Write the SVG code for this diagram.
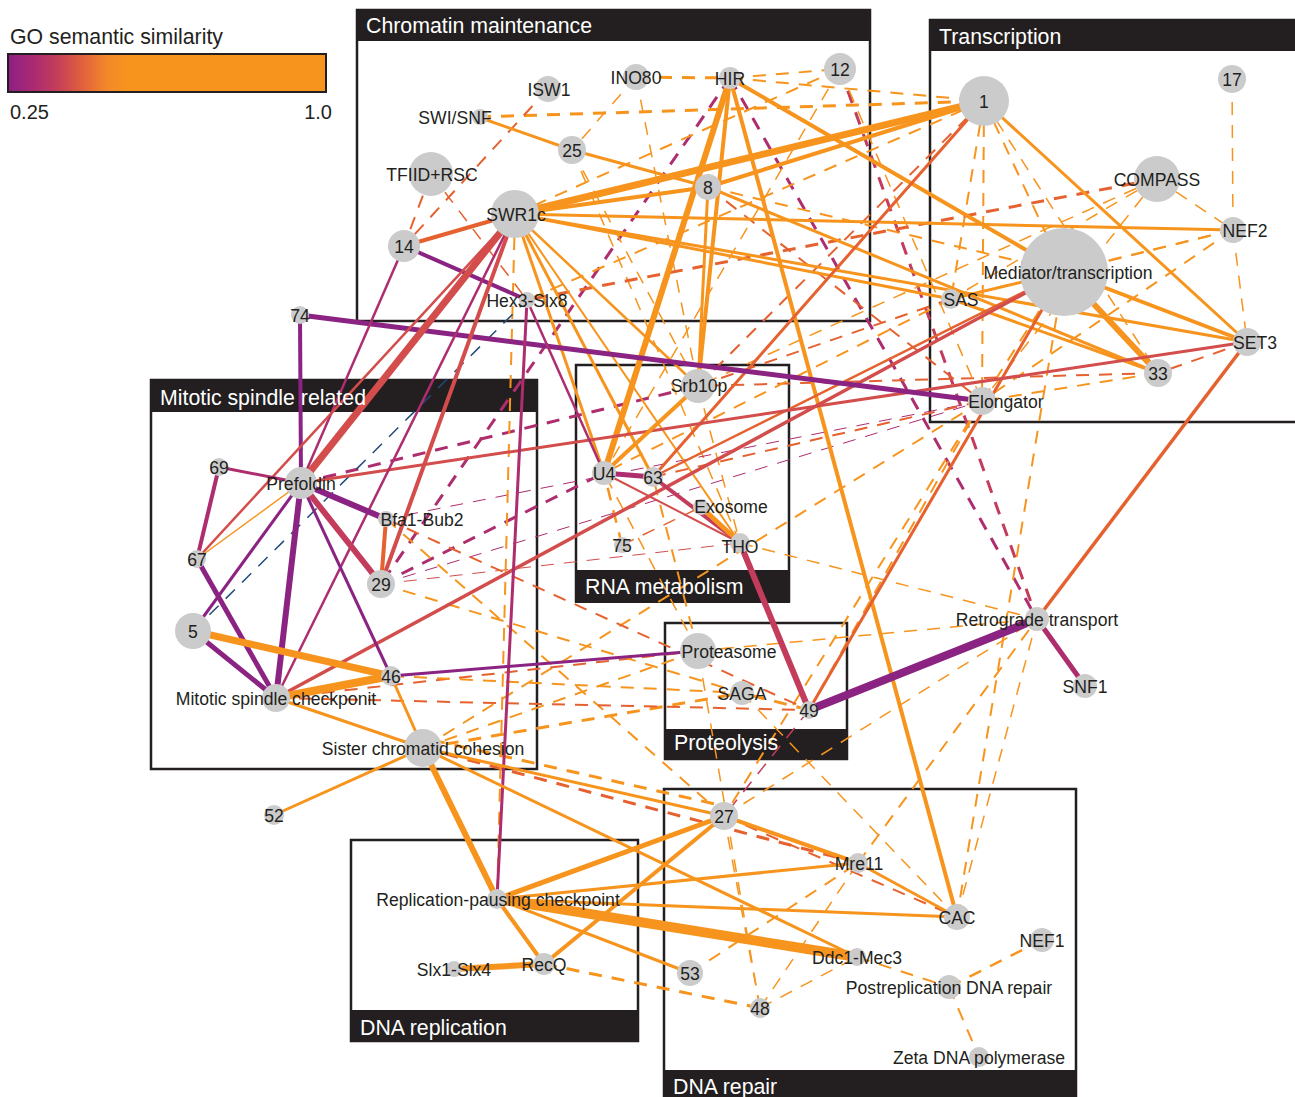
<svg xmlns="http://www.w3.org/2000/svg" width="1295" height="1097" viewBox="0 0 1295 1097">
<defs>
<linearGradient id="lg" x1="0" y1="0" x2="1" y2="0">
<stop offset="0" stop-color="#8e1f85"/>
<stop offset="0.08" stop-color="#a92a72"/>
<stop offset="0.16" stop-color="#c63f58"/>
<stop offset="0.24" stop-color="#e3633b"/>
<stop offset="0.31" stop-color="#f3882a"/>
<stop offset="0.38" stop-color="#f7941d"/>
<stop offset="1" stop-color="#f7941d"/>
</linearGradient>
<style>
.p{stroke:#8b2383}.m{stroke:#ad2d6e}.c{stroke:#c33c5c}.r{stroke:#d24d4b}.e{stroke:#e5612f}.o{stroke:#f7941d}.n{stroke:#1f4a78}
.d{stroke-dasharray:13 10}
#edges line{fill:none}
.node circle{fill:#cbcbcb}
.node text{font-family:"Liberation Sans",Arial,Helvetica,sans-serif;font-size:17.6px;fill:#231f20;text-anchor:middle}
.box{fill:none;stroke:#231f20;stroke-width:2.5}
.hdr{fill:#231f20}
.ht{font-family:"Liberation Sans",Arial,Helvetica,sans-serif;font-size:21.3px;fill:#ffffff}
.leg{font-family:"Liberation Sans",Arial,Helvetica,sans-serif;font-size:20px;fill:#231f20}
</style>
</defs>
<rect width="1295" height="1097" fill="#ffffff"/>

<g id="legend">
<text class="leg" x="10" y="44" style="font-size:21.3px">GO semantic similarity</text>
<rect x="8" y="54" width="318" height="38" fill="url(#lg)" stroke="#231f20" stroke-width="2"/>
<text class="leg" x="10" y="119">0.25</text>
<text class="leg" x="332" y="119" text-anchor="end">1.0</text>
</g>

<g id="groups">
<g id="grp-chromatin"><rect class="box" x="357" y="10" width="513" height="311"/><rect class="hdr" x="357" y="9" width="514" height="32"/></g>
<g id="grp-transcription"><rect class="box" x="930" y="20" width="400" height="402"/><rect class="hdr" x="929" y="19" width="380" height="32"/></g>
<g id="grp-mitotic"><rect class="box" x="151" y="380" width="386" height="389"/><rect class="hdr" x="150" y="379" width="388" height="33"/></g>
<g id="grp-rna"><rect class="box" x="576" y="365" width="213" height="236"/><rect class="hdr" x="575" y="570" width="215" height="33"/></g>
<g id="grp-proteolysis"><rect class="box" x="665" y="623" width="182" height="136"/><rect class="hdr" x="664" y="729" width="184" height="31"/></g>
<g id="grp-replication"><rect class="box" x="351" y="840" width="287" height="201"/><rect class="hdr" x="350" y="1010" width="289" height="32"/></g>
<g id="grp-repair"><rect class="box" x="664" y="789" width="412" height="330"/><rect class="hdr" x="663" y="1070" width="414" height="30"/></g>
</g>

<g id="edges">
<line class="o d" x1="636" y1="77" x2="730" y2="78" stroke-width="3"/>
<line class="o d" x1="730" y1="78" x2="840" y2="69" stroke-width="2"/>
<line class="o d" x1="478" y1="117" x2="984" y2="101" stroke-width="3"/>
<line class="o d" x1="730" y1="78" x2="984" y2="101" stroke-width="2"/>
<line class="e d" x1="548" y1="89" x2="404" y2="246" stroke-width="2"/>
<line class="o d" x1="636" y1="77" x2="572" y2="150" stroke-width="1.5"/>
<line class="o d" x1="636" y1="77" x2="698" y2="386" stroke-width="1.5"/>
<line class="e d" x1="431" y1="174" x2="404" y2="246" stroke-width="2"/>
<line class="e d" x1="431" y1="174" x2="527" y2="300" stroke-width="1.5"/>
<line class="m d" x1="730" y1="78" x2="381" y2="584" stroke-width="3"/>
<line class="m d" x1="730" y1="78" x2="1037" y2="619" stroke-width="3"/>
<line class="c d" x1="840" y1="69" x2="1037" y2="619" stroke-width="3"/>
<line class="o d" x1="840" y1="69" x2="515" y2="214" stroke-width="2"/>
<line class="o d" x1="840" y1="69" x2="604" y2="473" stroke-width="1.5"/>
<line class="o d" x1="840" y1="69" x2="982" y2="401" stroke-width="1.5"/>
<line class="o d" x1="572" y1="150" x2="698" y2="386" stroke-width="1.5"/>
<line class="o d" x1="572" y1="150" x2="740" y2="543" stroke-width="1.5"/>
<line class="e d" x1="708" y1="187" x2="982" y2="401" stroke-width="2"/>
<line class="o d" x1="708" y1="187" x2="1064" y2="272" stroke-width="2"/>
<line class="o d" x1="984" y1="101" x2="951" y2="299" stroke-width="2"/>
<line class="o d" x1="984" y1="101" x2="982" y2="401" stroke-width="2"/>
<line class="o d" x1="984" y1="101" x2="1064" y2="272" stroke-width="2"/>
<line class="o d" x1="984" y1="101" x2="1158" y2="373" stroke-width="1.5"/>
<line class="e d" x1="984" y1="101" x2="698" y2="386" stroke-width="2"/>
<line class="o d" x1="984" y1="101" x2="527" y2="300" stroke-width="2"/>
<line class="e d" x1="1157" y1="179" x2="527" y2="300" stroke-width="3"/>
<line class="o d" x1="1157" y1="179" x2="1233" y2="230" stroke-width="1.5"/>
<line class="o d" x1="1157" y1="179" x2="951" y2="299" stroke-width="1.5"/>
<line class="o d" x1="1157" y1="179" x2="982" y2="401" stroke-width="1.5"/>
<line class="o d" x1="1157" y1="179" x2="698" y2="386" stroke-width="1.5"/>
<line class="o d" x1="1232" y1="79" x2="1233" y2="230" stroke-width="1.5"/>
<line class="o d" x1="1233" y1="230" x2="1247" y2="342" stroke-width="1.5"/>
<line class="o d" x1="1233" y1="230" x2="1064" y2="272" stroke-width="2"/>
<line class="o d" x1="1233" y1="230" x2="982" y2="401" stroke-width="2"/>
<line class="o d" x1="1233" y1="230" x2="951" y2="299" stroke-width="2"/>
<line class="e d" x1="1247" y1="342" x2="1158" y2="373" stroke-width="2"/>
<line class="o d" x1="1064" y1="272" x2="982" y2="401" stroke-width="2"/>
<line class="e d" x1="1158" y1="373" x2="698" y2="386" stroke-width="2"/>
<line class="o d" x1="1158" y1="373" x2="982" y2="401" stroke-width="2"/>
<line class="e d" x1="951" y1="299" x2="698" y2="386" stroke-width="2"/>
<line class="o d" x1="951" y1="299" x2="604" y2="473" stroke-width="2"/>
<line class="o d" x1="982" y1="401" x2="809" y2="710" stroke-width="2"/>
<line class="o d" x1="982" y1="401" x2="724" y2="816" stroke-width="2"/>
<line class="o d" x1="982" y1="401" x2="423" y2="748" stroke-width="2"/>
<line class="o d" x1="1064" y1="272" x2="957" y2="917" stroke-width="2"/>
<line class="m d" x1="982" y1="401" x2="386" y2="519" stroke-width="1"/>
<line class="m d" x1="301" y1="483" x2="698" y2="386" stroke-width="3"/>
<line class="m d" x1="381" y1="584" x2="604" y2="473" stroke-width="3"/>
<line class="m d" x1="381" y1="584" x2="982" y2="401" stroke-width="1"/>
<line class="r d" x1="381" y1="584" x2="740" y2="543" stroke-width="1"/>
<line class="e d" x1="386" y1="519" x2="809" y2="710" stroke-width="2"/>
<line class="o d" x1="386" y1="519" x2="724" y2="816" stroke-width="2"/>
<line class="o d" x1="423" y1="748" x2="742" y2="693" stroke-width="3"/>
<line class="o d" x1="423" y1="748" x2="698" y2="651" stroke-width="2"/>
<line class="e d" x1="423" y1="748" x2="858" y2="863" stroke-width="3"/>
<line class="o d" x1="515" y1="214" x2="497" y2="899" stroke-width="2"/>
<line class="o d" x1="432" y1="740" x2="724" y2="806" stroke-width="3"/>
<line class="o d" x1="690" y1="973" x2="858" y2="863" stroke-width="2"/>
<line class="o d" x1="760" y1="1008" x2="858" y2="863" stroke-width="1.5"/>
<line class="o d" x1="760" y1="1008" x2="724" y2="816" stroke-width="1.5"/>
<line class="o d" x1="760" y1="1008" x2="857" y2="957" stroke-width="1.5"/>
<line class="o d" x1="760" y1="1008" x2="698" y2="651" stroke-width="1.5"/>
<line class="o d" x1="544" y1="964" x2="760" y2="1008" stroke-width="3"/>
<line class="o d" x1="857" y1="957" x2="949" y2="987" stroke-width="2"/>
<line class="o d" x1="949" y1="987" x2="1042" y2="940" stroke-width="2.5"/>
<line class="o d" x1="949" y1="987" x2="979" y2="1057" stroke-width="2"/>
<line class="o d" x1="957" y1="917" x2="1037" y2="619" stroke-width="1.5"/>
<line class="o d" x1="858" y1="863" x2="1037" y2="619" stroke-width="2"/>
<line class="o d" x1="724" y1="816" x2="1037" y2="619" stroke-width="1.5"/>
<line class="c d" x1="809" y1="710" x2="724" y2="816" stroke-width="1.5"/>
<line class="o d" x1="809" y1="710" x2="742" y2="693" stroke-width="3"/>
<line class="o d" x1="698" y1="651" x2="653" y2="477" stroke-width="2"/>
<line class="o d" x1="698" y1="651" x2="604" y2="473" stroke-width="1.5"/>
<line class="o d" x1="622" y1="545" x2="604" y2="473" stroke-width="2.5"/>
<line class="e d" x1="622" y1="545" x2="701" y2="507" stroke-width="1.5"/>
<line class="o d" x1="698" y1="386" x2="740" y2="543" stroke-width="1.5"/>
<line class="e d" x1="653" y1="477" x2="982" y2="401" stroke-width="2"/>
<line class="e d" x1="276" y1="698" x2="698" y2="651" stroke-width="2"/>
<line class="e d" x1="276" y1="698" x2="809" y2="710" stroke-width="2"/>
<line class="o d" x1="391" y1="676" x2="742" y2="693" stroke-width="2"/>
<line class="o d" x1="381" y1="584" x2="742" y2="693" stroke-width="2"/>
<line class="n d" x1="193" y1="631" x2="527" y2="300" stroke-width="1.5"/>
<line class="o d" x1="740" y1="543" x2="1037" y2="619" stroke-width="1.5"/>
<line class="o d" x1="698" y1="651" x2="1037" y2="619" stroke-width="1.5"/>
<line class="e d" x1="724" y1="816" x2="957" y2="917" stroke-width="2"/>
<line class="o d" x1="742" y1="693" x2="957" y2="917" stroke-width="1.5"/>
<line class="o" x1="515" y1="214" x2="984" y2="101" stroke-width="7"/>
<line class="o" x1="708" y1="187" x2="984" y2="101" stroke-width="4"/>
<line class="o" x1="515" y1="214" x2="708" y2="187" stroke-width="4"/>
<line class="o" x1="515" y1="214" x2="1233" y2="230" stroke-width="3"/>
<line class="o" x1="515" y1="214" x2="1247" y2="342" stroke-width="3"/>
<line class="o" x1="515" y1="214" x2="951" y2="299" stroke-width="3"/>
<line class="o" x1="515" y1="214" x2="604" y2="473" stroke-width="3"/>
<line class="o" x1="515" y1="214" x2="653" y2="477" stroke-width="3"/>
<line class="o" x1="515" y1="214" x2="698" y2="386" stroke-width="2.5"/>
<line class="o" x1="515" y1="214" x2="740" y2="543" stroke-width="2"/>
<line class="o" x1="478" y1="117" x2="572" y2="150" stroke-width="3"/>
<line class="o" x1="572" y1="150" x2="708" y2="187" stroke-width="3"/>
<line class="o" x1="730" y1="78" x2="604" y2="473" stroke-width="6"/>
<line class="o" x1="730" y1="78" x2="698" y2="386" stroke-width="4"/>
<line class="o" x1="708" y1="187" x2="698" y2="386" stroke-width="3"/>
<line class="o" x1="730" y1="78" x2="957" y2="917" stroke-width="4"/>
<line class="o" x1="730" y1="78" x2="1064" y2="272" stroke-width="4"/>
<line class="o" x1="984" y1="101" x2="1247" y2="342" stroke-width="3"/>
<line class="o" x1="708" y1="187" x2="1158" y2="373" stroke-width="3"/>
<line class="o" x1="951" y1="299" x2="1158" y2="373" stroke-width="3"/>
<line class="o" x1="1064" y1="272" x2="1158" y2="373" stroke-width="6"/>
<line class="o" x1="1064" y1="272" x2="1247" y2="342" stroke-width="4"/>
<line class="o" x1="951" y1="299" x2="1064" y2="272" stroke-width="3"/>
<line class="e" x1="984" y1="101" x2="653" y2="477" stroke-width="3"/>
<line class="e" x1="653" y1="477" x2="1064" y2="272" stroke-width="2.5"/>
<line class="e" x1="1064" y1="272" x2="809" y2="710" stroke-width="3"/>
<line class="e" x1="1247" y1="342" x2="1037" y2="619" stroke-width="3.5"/>
<line class="r" x1="301" y1="483" x2="1247" y2="342" stroke-width="3"/>
<line class="r" x1="276" y1="698" x2="1064" y2="272" stroke-width="3.5"/>
<line class="p" x1="300" y1="315" x2="982" y2="401" stroke-width="5"/>
<line class="p" x1="300" y1="315" x2="301" y2="483" stroke-width="4"/>
<line class="p" x1="404" y1="246" x2="527" y2="300" stroke-width="4"/>
<line class="e" x1="404" y1="246" x2="515" y2="214" stroke-width="4"/>
<line class="m" x1="404" y1="246" x2="301" y2="483" stroke-width="2.5"/>
<line class="r" x1="515" y1="214" x2="301" y2="483" stroke-width="7"/>
<line class="m" x1="515" y1="214" x2="276" y2="698" stroke-width="2.5"/>
<line class="r" x1="515" y1="214" x2="381" y2="584" stroke-width="4"/>
<line class="r" x1="515" y1="214" x2="197" y2="559" stroke-width="2.5"/>
<line class="m" x1="527" y1="300" x2="497" y2="899" stroke-width="3"/>
<line class="m" x1="527" y1="300" x2="604" y2="473" stroke-width="2.5"/>
<line class="m" x1="604" y1="473" x2="653" y2="477" stroke-width="5"/>
<line class="o" x1="604" y1="473" x2="698" y2="386" stroke-width="4"/>
<line class="c" x1="653" y1="477" x2="740" y2="543" stroke-width="4"/>
<line class="o" x1="701" y1="507" x2="740" y2="543" stroke-width="5"/>
<line class="r" x1="604" y1="473" x2="740" y2="543" stroke-width="2"/>
<line class="c" x1="740" y1="543" x2="809" y2="710" stroke-width="6"/>
<line class="p" x1="1037" y1="619" x2="809" y2="710" stroke-width="8"/>
<line class="m" x1="1037" y1="619" x2="1085" y2="686" stroke-width="5"/>
<line class="p" x1="301" y1="483" x2="276" y2="698" stroke-width="6"/>
<line class="p" x1="301" y1="483" x2="391" y2="676" stroke-width="3"/>
<line class="c" x1="301" y1="483" x2="381" y2="584" stroke-width="6"/>
<line class="p" x1="301" y1="483" x2="386" y2="519" stroke-width="6"/>
<line class="m" x1="301" y1="483" x2="219" y2="467" stroke-width="3"/>
<line class="p" x1="301" y1="483" x2="193" y2="631" stroke-width="3"/>
<line class="o" x1="301" y1="483" x2="197" y2="559" stroke-width="1.5"/>
<line class="m" x1="219" y1="467" x2="197" y2="559" stroke-width="4"/>
<line class="p" x1="197" y1="559" x2="276" y2="698" stroke-width="5"/>
<line class="p" x1="193" y1="631" x2="276" y2="698" stroke-width="5"/>
<line class="o" x1="193" y1="631" x2="391" y2="676" stroke-width="7"/>
<line class="o" x1="391" y1="676" x2="276" y2="698" stroke-width="8"/>
<line class="o" x1="276" y1="698" x2="423" y2="748" stroke-width="3"/>
<line class="o" x1="391" y1="676" x2="423" y2="748" stroke-width="3"/>
<line class="e" x1="386" y1="519" x2="381" y2="584" stroke-width="4"/>
<line class="p" x1="391" y1="676" x2="698" y2="651" stroke-width="3"/>
<line class="o" x1="423" y1="748" x2="274" y2="815" stroke-width="3"/>
<line class="o" x1="423" y1="748" x2="497" y2="899" stroke-width="6"/>
<line class="o" x1="423" y1="748" x2="724" y2="816" stroke-width="3"/>
<line class="o" x1="423" y1="748" x2="857" y2="957" stroke-width="3"/>
<line class="o" x1="497" y1="899" x2="724" y2="816" stroke-width="5"/>
<line class="o" x1="497" y1="899" x2="858" y2="863" stroke-width="3"/>
<line class="o" x1="497" y1="899" x2="957" y2="917" stroke-width="3"/>
<line class="o" x1="497" y1="899" x2="857" y2="957" stroke-width="10"/>
<line class="o" x1="497" y1="899" x2="690" y2="973" stroke-width="3"/>
<line class="o" x1="497" y1="899" x2="544" y2="964" stroke-width="4"/>
<line class="o" x1="544" y1="964" x2="724" y2="816" stroke-width="4"/>
<line class="o" x1="454" y1="969" x2="544" y2="964" stroke-width="6"/>
<line class="o" x1="724" y1="816" x2="858" y2="863" stroke-width="4"/>
<line class="o" x1="858" y1="863" x2="957" y2="917" stroke-width="3"/>
</g>

<g id="nodes">
<g id="n-isw1" class="node"><circle cx="548" cy="89" r="13"/><text x="549" y="96">ISW1</text></g>
<g id="n-ino80" class="node"><circle cx="636" cy="77" r="13"/><text x="636" y="84">INO80</text></g>
<g id="n-hir" class="node"><circle cx="730" cy="78" r="11"/><text x="730" y="85">HIR</text></g>
<g id="n-12" class="node"><circle cx="840" cy="69" r="16"/><text x="840" y="76">12</text></g>
<g id="n-swisnf" class="node"><circle cx="480" cy="117" r="8"/><text x="455" y="124">SWI/SNF</text></g>
<g id="n-25" class="node"><circle cx="572" cy="150" r="14"/><text x="572" y="157">25</text></g>
<g id="n-tfiid" class="node"><circle cx="431" cy="174" r="22"/><text x="432" y="181">TFIID+RSC</text></g>
<g id="n-8" class="node"><circle cx="708" cy="187" r="13"/><text x="708" y="194">8</text></g>
<g id="n-swr1c" class="node"><circle cx="515" cy="214" r="24"/><text x="516" y="221">SWR1c</text></g>
<g id="n-14" class="node"><circle cx="404" cy="246" r="16"/><text x="404" y="253">14</text></g>
<g id="n-hex3" class="node"><circle cx="527" cy="300" r="8"/><text x="527" y="307">Hex3-Slx8</text></g>
<g id="n-1" class="node"><circle cx="984" cy="101" r="25"/><text x="984" y="108">1</text></g>
<g id="n-17" class="node"><circle cx="1232" cy="79" r="14"/><text x="1232" y="86">17</text></g>
<g id="n-compass" class="node"><circle cx="1157" cy="179" r="23"/><text x="1157" y="186">COMPASS</text></g>
<g id="n-nef2" class="node"><circle cx="1233" cy="230" r="13"/><text x="1245" y="237">NEF2</text></g>
<g id="n-mediator" class="node"><circle cx="1064" cy="272" r="44"/><text x="1068" y="279">Mediator/transcription</text></g>
<g id="n-sas" class="node"><circle cx="951" cy="299" r="10"/><text x="961" y="306">SAS</text></g>
<g id="n-set3" class="node"><circle cx="1247" cy="342" r="14"/><text x="1255" y="349">SET3</text></g>
<g id="n-33" class="node"><circle cx="1158" cy="373" r="14"/><text x="1158" y="380">33</text></g>
<g id="n-elongator" class="node"><circle cx="982" cy="401" r="14"/><text x="1006" y="408">Elongator</text></g>
<g id="n-74" class="node"><circle cx="300" cy="315" r="9"/><text x="300" y="322">74</text></g>
<g id="n-srb10p" class="node"><circle cx="698" cy="386" r="17"/><text x="699" y="392">Srb10p</text></g>
<g id="n-69" class="node"><circle cx="219" cy="467" r="9"/><text x="219" y="474">69</text></g>
<g id="n-prefoldin" class="node"><circle cx="301" cy="483" r="16"/><text x="301" y="490">Prefoldin</text></g>
<g id="n-bfa1" class="node"><circle cx="386" cy="519" r="8"/><text x="422" y="526">Bfa1-Bub2</text></g>
<g id="n-67" class="node"><circle cx="197" cy="559" r="9"/><text x="197" y="566">67</text></g>
<g id="n-29" class="node"><circle cx="381" cy="584" r="14"/><text x="381" y="591">29</text></g>
<g id="n-5" class="node"><circle cx="193" cy="631" r="18"/><text x="193" y="638">5</text></g>
<g id="n-46" class="node"><circle cx="391" cy="676" r="10"/><text x="391" y="683">46</text></g>
<g id="n-msc" class="node"><circle cx="276" cy="698" r="14"/><text x="276" y="705">Mitotic spindle checkponit</text></g>
<g id="n-sister" class="node"><circle cx="423" cy="748" r="19"/><text x="423" y="755">Sister chromatid cohesion</text></g>
<g id="n-52" class="node"><circle cx="274" cy="815" r="10"/><text x="274" y="822">52</text></g>
<g id="n-u4" class="node"><circle cx="604" cy="473" r="12"/><text x="604" y="480">U4</text></g>
<g id="n-63" class="node"><circle cx="653" cy="477" r="10"/><text x="653" y="484">63</text></g>
<g id="n-exosome" class="node"><circle cx="701" cy="507" r="8"/><text x="731" y="513">Exosome</text></g>
<g id="n-75" class="node"><circle cx="622" cy="545" r="8"/><text x="622" y="552">75</text></g>
<g id="n-tho" class="node"><circle cx="740" cy="543" r="10"/><text x="740" y="553">THO</text></g>
<g id="n-proteasome" class="node"><circle cx="698" cy="651" r="18"/><text x="729" y="658">Proteasome</text></g>
<g id="n-saga" class="node"><circle cx="742" cy="693" r="12"/><text x="742" y="700">SAGA</text></g>
<g id="n-49" class="node"><circle cx="809" cy="710" r="9"/><text x="809" y="717">49</text></g>
<g id="n-retrograde" class="node"><circle cx="1037" cy="619" r="12"/><text x="1037" y="626">Retrograde transport</text></g>
<g id="n-snf1" class="node"><circle cx="1085" cy="686" r="12"/><text x="1085" y="693">SNF1</text></g>
<g id="n-27" class="node"><circle cx="724" cy="816" r="14"/><text x="724" y="823">27</text></g>
<g id="n-mre11" class="node"><circle cx="858" cy="863" r="10"/><text x="859" y="870">Mre11</text></g>
<g id="n-rpc" class="node"><circle cx="497" cy="899" r="10"/><text x="498" y="906">Replication-pausing checkpoint</text></g>
<g id="n-cac" class="node"><circle cx="957" cy="917" r="13"/><text x="957" y="924">CAC</text></g>
<g id="n-nef1" class="node"><circle cx="1042" cy="940" r="12"/><text x="1042" y="947">NEF1</text></g>
<g id="n-ddc1" class="node"><circle cx="857" cy="957" r="9"/><text x="857" y="964">Ddc1-Mec3</text></g>
<g id="n-slx1" class="node"><circle cx="454" cy="969" r="8"/><text x="454" y="976">Slx1-Slx4</text></g>
<g id="n-recq" class="node"><circle cx="544" cy="964" r="11"/><text x="544" y="971">RecQ</text></g>
<g id="n-53" class="node"><circle cx="690" cy="973" r="13"/><text x="690" y="980">53</text></g>
<g id="n-postrep" class="node"><circle cx="949" cy="987" r="12"/><text x="949" y="994">Postreplication DNA repair</text></g>
<g id="n-48" class="node"><circle cx="760" cy="1008" r="10"/><text x="760" y="1015">48</text></g>
<g id="n-zeta" class="node"><circle cx="979" cy="1057" r="10"/><text x="979" y="1064">Zeta DNA polymerase</text></g>
</g>

<g id="group-titles">
<text class="ht" x="366" y="33">Chromatin maintenance</text>
<text class="ht" x="939" y="44">Transcription</text>
<text class="ht" x="160" y="405">Mitotic spindle related</text>
<text class="ht" x="585" y="594">RNA metabolism</text>
<text class="ht" x="674" y="750">Proteolysis</text>
<text class="ht" x="360" y="1035">DNA replication</text>
<text class="ht" x="673" y="1094">DNA repair</text>
</g>
</svg>
